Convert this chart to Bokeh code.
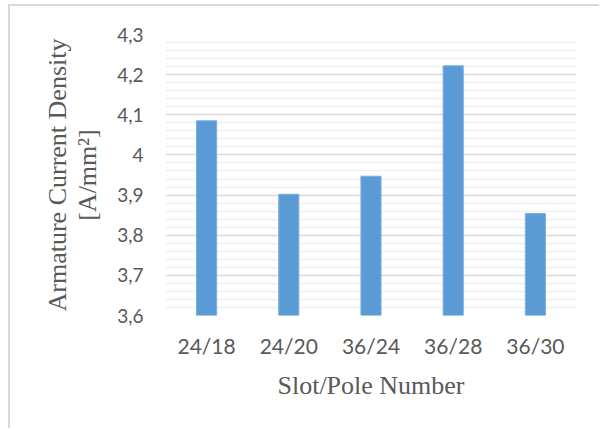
from bokeh.plotting import figure
from bokeh.models import FixedTicker, FactorRange, Range1d
from bokeh.embed import file_html
from bokeh.resources import INLINE
import numpy as np

categories = ["24/18", "24/20", "36/24", "36/28", "36/30"]
current_density = [4.085, 3.902, 3.947, 4.222, 3.854]
y_ticks = [3.6, 3.7, 3.8, 3.9, 4.0, 4.1, 4.2, 4.3]
y_tick_labels = ["3,6", "3,7", "3,8", "3,9", "4", "4,1", "4,2", "4,3"]

minor = [round(v, 2) for v in np.arange(3.6, 4.3001, 0.02) if round(v * 10, 6) % 1 != 0]

p = figure(width=591, height=424, output_backend="svg", toolbar_location=None,
           x_range=FactorRange(factors=categories, range_padding=0),
           y_range=Range1d(3.6, 4.3),
           min_border_left=155, min_border_right=25, min_border_top=28, min_border_bottom=115)

p.styles = {"border-top": "2px solid #d9d9d9", "border-left": "2px solid #d9d9d9",
            "margin-left": "8px", "margin-top": "4px"}

p.vbar(x=categories, top=current_density, bottom=3.6, width=0.245,
       fill_color="#5b9bd5", line_color="#7aaee0", line_width=1)

p.outline_line_color = None
p.background_fill_color = "white"
p.border_fill_color = "white"

# grids
p.xgrid.grid_line_color = None
p.ygrid.ticker = FixedTicker(ticks=y_ticks, minor_ticks=minor)
p.ygrid.grid_line_color = "#d9d9d9"
p.ygrid.grid_line_width = 1.5
p.ygrid.minor_grid_line_color = "#f0f0f0"
p.ygrid.minor_grid_line_width = 1.5

# y axis
p.yaxis.ticker = FixedTicker(ticks=y_ticks)
p.yaxis.major_label_overrides = {t: l for t, l in zip(y_ticks, y_tick_labels)}
p.yaxis.axis_line_color = None
p.yaxis.major_tick_line_color = None
p.yaxis.minor_tick_line_color = None
p.yaxis.major_tick_out = 0
p.yaxis.major_tick_in = 0
p.yaxis.major_label_standoff = 22
p.yaxis.major_label_text_font = "Lato"
p.yaxis.major_label_text_font_size = "19px"
p.yaxis.major_label_text_color = "#595959"
p.yaxis.axis_label = "Armature Current Density\n[A/mm\u00b2]"
p.yaxis.axis_label_text_font = "Liberation Serif"
p.yaxis.axis_label_text_font_style = "normal"
p.yaxis.axis_label_text_font_size = "26px"
p.yaxis.axis_label_text_color = "#595959"
p.yaxis.axis_label_text_line_height = 1.05
p.yaxis.axis_label_standoff = 12

# x axis
p.xaxis.axis_line_color = None
p.xaxis.major_tick_line_color = None
p.xaxis.minor_tick_line_color = None
p.xaxis.major_tick_out = 0
p.xaxis.major_tick_in = 0
p.xaxis.major_label_standoff = 17
p.xaxis.major_label_text_font = "Lato"
p.xaxis.major_label_text_font_size = "21px"
p.xaxis.major_label_text_color = "#595959"
p.xaxis.axis_label = "Slot/Pole Number"
p.xaxis.axis_label_text_font = "Liberation Serif"
p.xaxis.axis_label_text_font_style = "normal"
p.xaxis.axis_label_text_font_size = "26px"
p.xaxis.axis_label_text_color = "#595959"
p.xaxis.axis_label_standoff = 10

open("out.html", "w").write(file_html(p, INLINE))
